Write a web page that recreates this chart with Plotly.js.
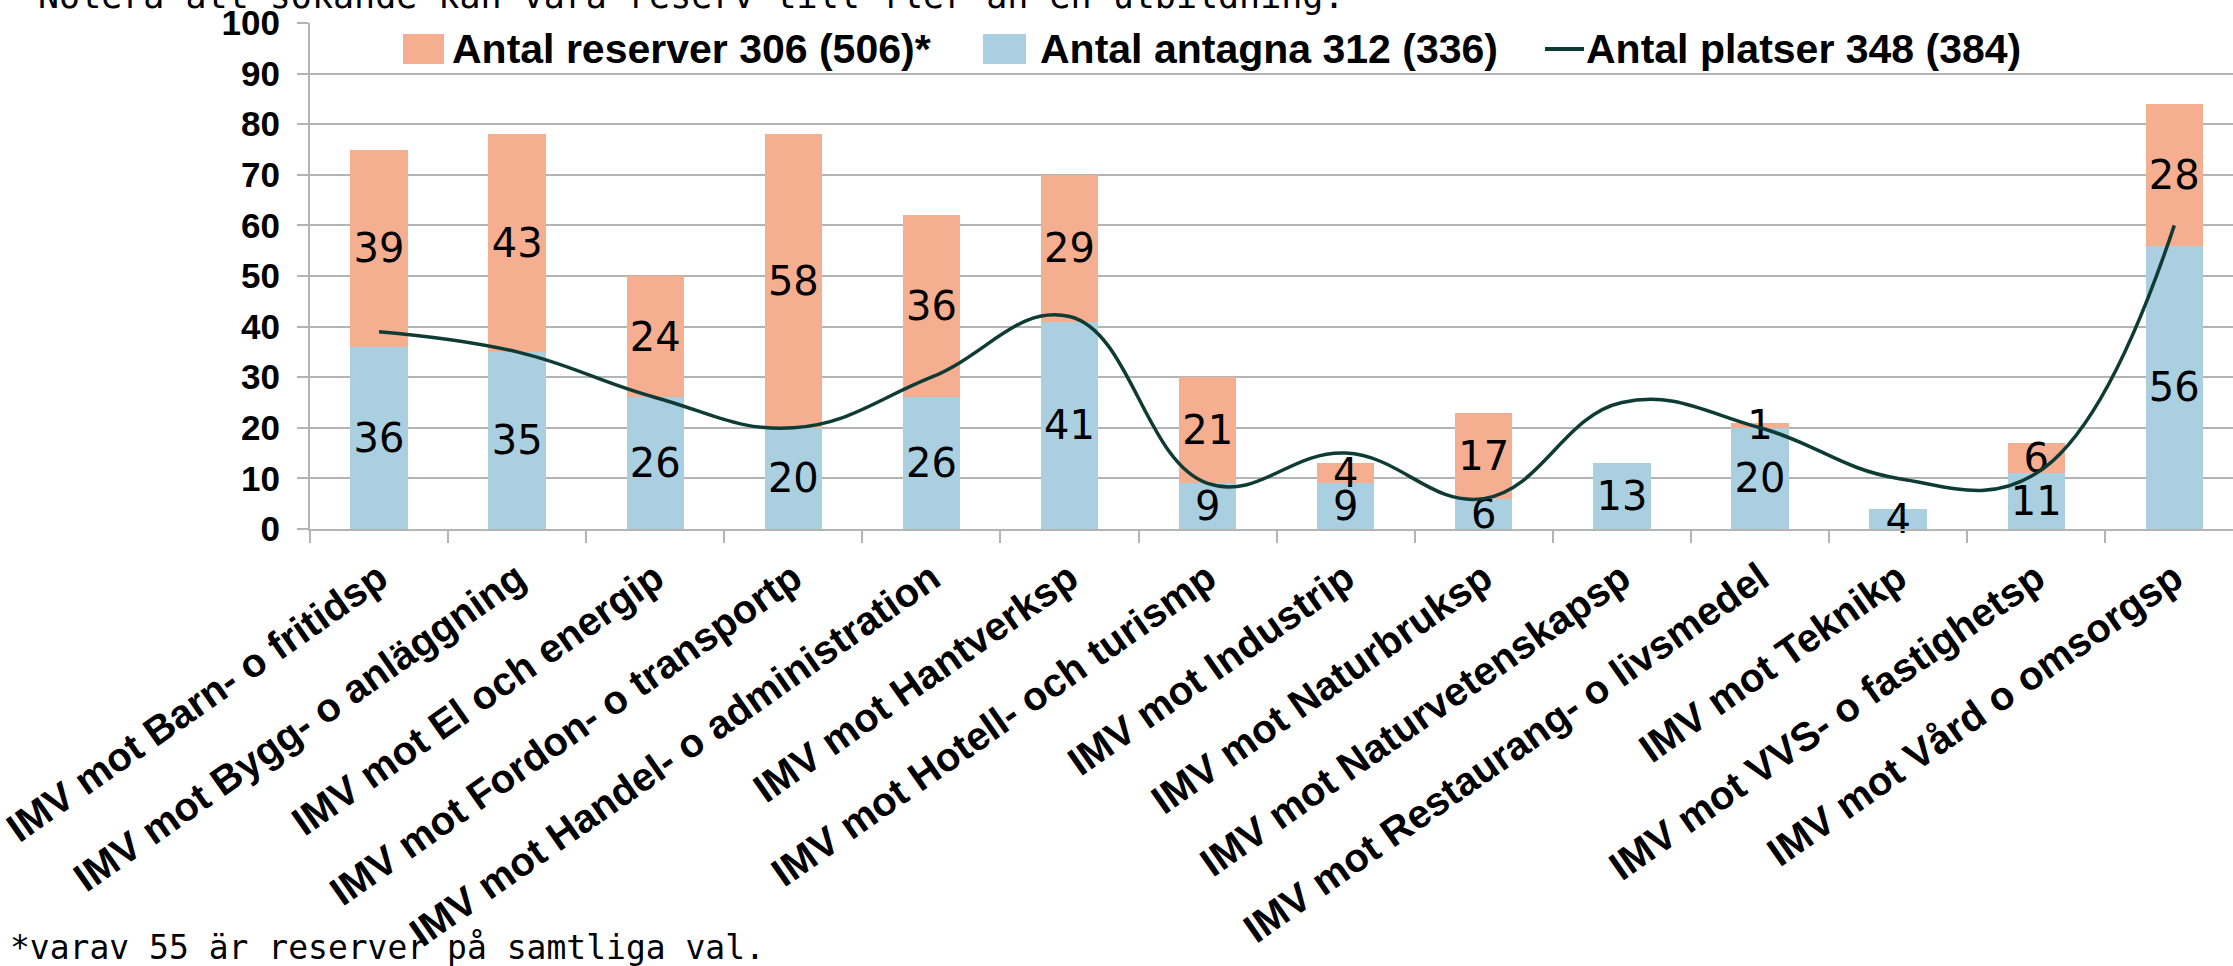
<!DOCTYPE html>
<html>
<head>
<meta charset="utf-8">
<script src="https://cdn.plot.ly/plotly-3.0.1.min.js"></script>
<style>
  html, body { margin: 0; padding: 0; background: #fff; }
  #chart { width: 2233px; height: 966px; }
</style>
</head>
<body>
<div id="chart"></div>
<script>
"use strict";

// Categories (programmes)
var categories = [
	"IMV mot Barn- o fritidsp",
	"IMV mot Bygg- o anläggning",
	"IMV mot El och energip",
	"IMV mot Fordon- o transportp",
	"IMV mot Handel- o administration",
	"IMV mot Hantverksp",
	"IMV mot Hotell- och turismp",
	"IMV mot Industrip",
	"IMV mot Naturbruksp",
	"IMV mot Naturvetenskapsp",
	"IMV mot Restaurang- o livsmedel",
	"IMV mot Teknikp",
	"IMV mot VVS- o fastighetsp",
	"IMV mot Vård o omsorgsp"
];

// Series values
var antagna = [36, 35, 26, 20, 26, 41, 9, 9, 6, 13, 20, 4, 11, 56];
var reserver = [39, 43, 24, 58, 36, 29, 21, 4, 17, 0, 1, 0, 6, 28];
var platser = [39, 35, 26, 20, 30, 42, 9, 15, 6, 25, 20, 10, 11, 60];

// Legend labels and notes
var seriesNames = ["Antal reserver 306 (506)*", "Antal antagna 312 (336)", "Antal platser 348 (384)"];
var topNote = "Notera att sökande kan vara reserv till fler än en utbildning.";
var footNote = "*varav 55 är reserver på samtliga val.";

var colReserv = "#f6ae90";
var colAntagna = "#aacfe1";
var colLine = "#0e3c35";
var colGrid = "#b4b4b4";

// figure geometry (pixels)
var W = 2233, H = 966;
var M = { l: 310, r: 0, t: 23, b: 437 };
var plotW = W - M.l - M.r, plotH = H - M.t - M.b;
function px(x) { return (x - M.l) / plotW; }
function py(y) { return (H - M.b - y) / plotH; }

function labels(arr) {
	return arr.map(function (v) { return v ? String(v) : ""; });
}

var labelFont = { family: "DejaVu Sans", size: 40, color: "#000" };

var traces = [
	{
		type: "bar",
		name: seriesNames[1],
		x: categories,
		y: antagna,
		marker: { color: colAntagna },
		text: labels(antagna),
		textposition: "inside",
		insidetextanchor: "middle",
		textangle: 0,
		constraintext: "none",
		textfont: labelFont,
		cliponaxis: false,
		hoverinfo: "skip"
	},
	{
		type: "bar",
		name: seriesNames[0],
		x: categories,
		y: reserver,
		marker: { color: colReserv },
		text: labels(reserver),
		textposition: "inside",
		insidetextanchor: "middle",
		textangle: 0,
		constraintext: "none",
		textfont: labelFont,
		cliponaxis: false,
		hoverinfo: "skip"
	},
	{
		type: "scatter",
		mode: "lines",
		name: seriesNames[2],
		x: categories,
		y: platser,
		line: { color: colLine, width: 3.5, shape: "spline", smoothing: 1.2 },
		hoverinfo: "skip"
	}
];

// hand-made legend (swatches sized like the original)
var legendItems = [
	{ kind: "rect", color: colReserv, x0: 403, x1: 444, tx: 450, name: seriesNames[0] },
	{ kind: "rect", color: colAntagna, x0: 983, x1: 1026, tx: 1038, name: seriesNames[1] },
	{ kind: "line", color: colLine, x0: 1545, x1: 1584, tx: 1584, name: seriesNames[2] }
];
var legY = 49;

var shapes = [];
var annotations = [];
legendItems.forEach(function (it) {
	if (it.kind === "rect") {
		shapes.push({
			type: "rect", xref: "paper", yref: "paper",
			x0: px(it.x0), x1: px(it.x1), y0: py(legY - 15), y1: py(legY + 15),
			fillcolor: it.color, line: { width: 0 }
		});
	} else {
		shapes.push({
			type: "line", xref: "paper", yref: "paper",
			x0: px(it.x0), x1: px(it.x1), y0: py(legY), y1: py(legY),
			line: { color: it.color, width: 4 }
		});
	}
	annotations.push({
		xref: "paper", yref: "paper", x: px(it.tx), y: py(legY),
		xanchor: "left", yanchor: "middle", showarrow: false,
		text: it.name,
		font: { family: "Liberation Sans", size: 41, weight: 700, color: "#000" }
	});
});

annotations.push({
	xref: "paper", yref: "paper", x: px(36), y: py(-4),
	xanchor: "left", yanchor: "middle", showarrow: false,
	text: topNote,
	font: { family: "DejaVu Sans Mono", size: 35, color: "#000" }
});
annotations.push({
	xref: "paper", yref: "paper", x: px(8), y: py(947),
	xanchor: "left", yanchor: "middle", showarrow: false,
	text: footNote,
	font: { family: "DejaVu Sans Mono", size: 33, color: "#000" }
});

var layout = {
	width: W,
	height: H,
	margin: M,
	paper_bgcolor: "#fff",
	plot_bgcolor: "#fff",
	barmode: "stack",
	bargap: 0.585,
	showlegend: false,
	xaxis: {
		type: "category",
		range: [-0.5, 13.425],
		showgrid: false,
		showline: true,
		linecolor: colGrid,
		linewidth: 2,
		ticks: "outside",
		tickson: "boundaries",
		ticklen: 12,
		tickwidth: 2,
		tickcolor: colGrid,
		tickangle: -35,
		ticklabelstandoff: 8,
		tickfont: { family: "Liberation Sans", size: 40, weight: 700, color: "#000" },
		automargin: false
	},
	yaxis: {
		range: [0, 100],
		dtick: 10,
		showgrid: true,
		gridcolor: colGrid,
		gridwidth: 2,
		showline: true,
		linecolor: colGrid,
		linewidth: 2,
		ticks: "outside",
		ticklen: 11,
		tickwidth: 2,
		tickcolor: colGrid,
		ticklabelstandoff: 10,
		zeroline: false,
		tickfont: { family: "Liberation Sans", size: 35, weight: 700, color: "#000" },
		automargin: false
	},
	shapes: shapes,
	annotations: annotations
};

Plotly.newPlot("chart", traces, layout, { staticPlot: true, displayModeBar: false });
</script>
</body>
</html>
